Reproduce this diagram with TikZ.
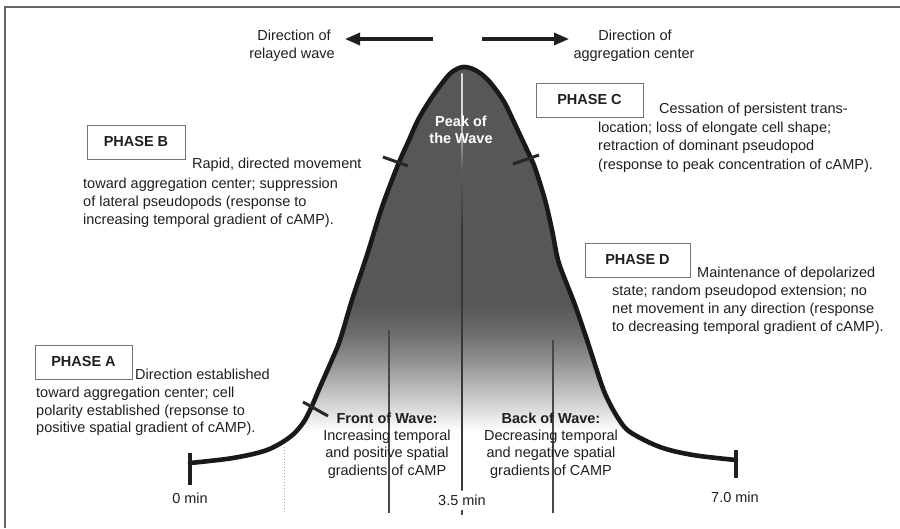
\documentclass[tikz,border=0pt]{standalone}
\usepackage{fontspec}
\setmainfont{Liberation Sans}
\usetikzlibrary{arrows.meta}
\definecolor{wavedark}{gray}{0.34}
\definecolor{wavedm}{gray}{0.42}
\definecolor{wavemid}{gray}{0.56}
\definecolor{wavelight}{gray}{0.80}
\definecolor{lndark}{gray}{0.22}
\definecolor{lnmid}{gray}{0.36}
\definecolor{lnlight}{gray}{0.85}
\definecolor{txt}{gray}{0.12}
\pgfdeclareverticalshading{waveshade}{100bp}{color(0bp)=(white); color(29bp)=(white); color(33bp)=(wavelight); color(38bp)=(wavemid); color(41.5bp)=(wavedm); color(45bp)=(wavedark); color(100bp)=(wavedark)}
\pgfdeclareverticalshading{clineshade}{100bp}{color(0bp)=(lndark); color(56.2bp)=(lndark); color(63.4bp)=(lnmid); color(70bp)=(lnlight); color(100bp)=(lnlight)}
\tikzset{
  desc/.style={font=\fontsize{14.5}{17}\selectfont, text=txt, inner sep=0pt, anchor=base west},
  ctext/.style={font=\fontsize{14.5}{17}\selectfont, text=txt, inner sep=0pt, anchor=base},
  btext/.style={font=\fontsize{14.5}{17}\selectfont\bfseries, text=txt, inner sep=0pt, anchor=base},
  phasebox/.style={draw=black!55, line width=1pt, fill=white, font=\fontsize{14.5}{17}\selectfont\bfseries, text=txt, inner sep=0pt, minimum height=34pt},
  waveline/.style={line width=4.6pt, draw=black!90, line cap=round, line join=round},
  tickmark/.style={line width=3pt, draw=black!85},
  endbar/.style={line width=3.3pt, draw=black!88},
  dirarrow/.style={line width=3.2pt, draw=black!88, -{Triangle[length=15pt,width=12pt]}},
  vline/.style={line width=1.3pt, draw=black!72},
  frame/.style={line width=1.6pt, draw=black!60}
}
\begin{document}
\begin{tikzpicture}[x=1pt,y=-1pt]
\useasboundingbox (0,0) rectangle (900,528);
% frame
\draw[frame] (5,528) -- (5,7) -- (900,7);
% wave fill
\begin{scope}
\clip plot[smooth, tension=0.55] coordinates {
 (190,463) (233,458) (267,450) (290,437) (303,423) (311,408) (320,387) (331,362) (340,340) (352,300) (367,255) (381,210) (392,180) (400,160) (409,140) (418,120) (430,100) (443,82) (452,72) (463,67)
 (475,70) (488,80) (503,100) (513,120) (520,135) (528,152) (535,168) (545,200) (552,230) (558,260) (566,282) (575,305) (587,340) (600,380) (607,398) (618,418) (630,432) (660,447) (693,455) (736,460)} -- cycle;
\shade[shading=waveshade] (180,66) rectangle (750,463);
\end{scope}
% vertical lines
\shade[shading=clineshade] (461.3,73) rectangle (462.7,490);
\draw[vline] (462,510) -- (462,515);
\draw[vline] (389,330) -- (389,513);
\draw[vline] (553,340) -- (553,513);
\draw[line width=0.9pt, draw=black!35, dotted] (284,447) -- (284,513);
% wave outline
\draw[waveline] plot[smooth, tension=0.55] coordinates {
 (190,463) (233,458) (267,450) (290,437) (303,423) (311,408) (320,387) (331,362) (340,340) (352,300) (367,255) (381,210) (392,180) (400,160) (409,140) (418,120) (430,100) (443,82) (452,72) (463,67)
 (475,70) (488,80) (503,100) (513,120) (520,135) (528,152) (535,168) (545,200) (552,230) (558,260) (566,282) (575,305) (587,340) (600,380) (607,398) (618,418) (630,432) (660,447) (693,455) (736,460)};
\draw[endbar] (190,453) -- (190,485);
\draw[endbar] (736,450) -- (736,478);
% tick marks on the wave
\draw[tickmark] (303,402) -- (328,416);
\draw[tickmark] (383,157) -- (408,166);
\draw[tickmark] (513,164) -- (539,155);
% direction arrows
\coordinate (la1) at (433,39);
\coordinate (la2) at (345,39);
\coordinate (ra1) at (482,39);
\coordinate (ra2) at (569,39);
\draw[dirarrow] (la1) -- (la2);
\draw[dirarrow] (ra1) -- (ra2);
\node[ctext] (dl1) at (294,40) {Direction of};
\node[ctext] (dl2) at (292,58) {relayed wave};
\node[ctext] (dr1) at (635,40) {Direction of};
\node[ctext] (dr2) at (634,58) {aggregation center};
% peak
\node[btext, text=white] (pk1) at (461,126) {Peak of};
\node[btext, text=white] (pk2) at (461,143) {the Wave};
% phase B
\node[phasebox, minimum width=98pt] (phB) at (136,142) {PHASE B};
\node[desc] (phB1) at (192,168) {Rapid, directed movement};
\node[desc] (phB2) at (83,188) {toward aggregation center; suppression};
\node[desc] (phB3) at (83,206) {of lateral pseudopods (response to};
\node[desc] (phB4) at (83,224) {increasing temporal gradient of cAMP).};
% phase C
\node[phasebox, minimum width=107pt] (phC) at (589.5,100) {PHASE C};
\node[desc] (phC1) at (659,113.5) {Cessation of persistent trans-};
\node[desc] (phC2) at (598,132) {location; loss of elongate cell shape;};
\node[desc] (phC3) at (598,150.5) {retraction of dominant pseudopod};
\node[desc] (phC4) at (598,169) {(response to peak concentration of cAMP).};
% phase D
\node[phasebox, minimum width=105pt] (phD) at (637.5,260) {PHASE D};
\node[desc] (phD1) at (697,277) {Maintenance of depolarized};
\node[desc] (phD2) at (612,295) {state; random pseudopod extension; no};
\node[desc] (phD3) at (612,313) {net movement in any direction (response};
\node[desc] (phD4) at (612,331) {to decreasing temporal gradient of cAMP).};
% phase A
\node[phasebox, minimum width=97pt] (phA) at (83.5,362) {PHASE A};
\node[desc] (phA1) at (135,379) {Direction established};
\node[desc] (phA2) at (36,397) {toward aggregation center; cell};
\node[desc] (phA3) at (36,415) {polarity established (repsonse to};
\node[desc] (phA4) at (36,432) {positive spatial gradient of cAMP).};
% front / back of wave
\node[btext] (fw1) at (387,423) {Front of Wave:};
\node[ctext] (fw2) at (387,440) {Increasing temporal};
\node[ctext] (fw3) at (387,457.5) {and positive spatial};
\node[ctext] (fw4) at (387,475) {gradients of cAMP};
\node[btext] (bw1) at (551,423) {Back of Wave:};
\node[ctext] (bw2) at (551,440) {Decreasing temporal};
\node[ctext] (bw3) at (551,457.5) {and negative spatial};
\node[ctext] (bw4) at (551,475) {gradients of CAMP};
% time labels
\node[ctext] (t0) at (190,503) {0 min};
\node[ctext] (t35) at (462,505) {3.5 min};
\node[ctext] (t70) at (735,502) {7.0 min};
\end{tikzpicture}
\end{document}
